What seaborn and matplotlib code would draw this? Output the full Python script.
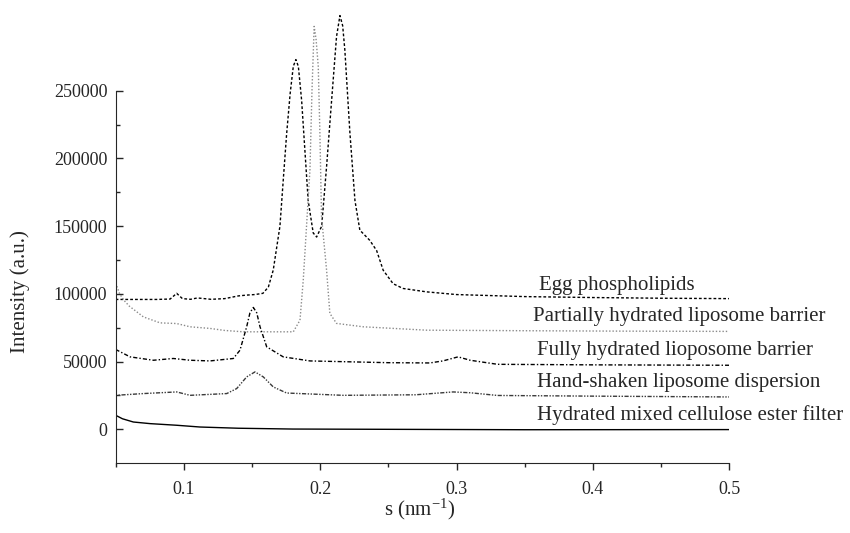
import numpy as np
import pandas as pd
import matplotlib
matplotlib.use("Agg")
import matplotlib.pyplot as plt
import seaborn as sns

# Data (s in nm^-1, intensity in a.u.)
egg_s = [0.05, 0.06, 0.07, 0.08, 0.09, 0.0948, 0.099, 0.105, 0.11, 0.12, 0.13, 0.14,
         0.146, 0.152, 0.158, 0.162, 0.1656, 0.1705, 0.173, 0.1754, 0.178, 0.1803,
         0.1822, 0.184, 0.1864, 0.1888, 0.1912, 0.1949, 0.1974, 0.2011, 0.2047,
         0.2084, 0.212, 0.2145, 0.2165, 0.2181, 0.2218, 0.2255, 0.2291, 0.2316,
         0.2364, 0.2414, 0.2462, 0.2535, 0.2608, 0.278, 0.3, 0.35, 0.4, 0.45, 0.5]
egg_i = [95900, 95900, 95900, 95900, 96200, 100400, 96500, 96000, 97000, 96000,
         96500, 98500, 99100, 99500, 100400, 105000, 117600, 150000, 185000, 218000,
         248000, 268000, 273000, 268000, 243000, 206000, 169000, 145000, 142000,
         150000, 194000, 243000, 290000, 305500, 298000, 280000, 219000, 169000,
         147000, 144500, 139500, 132000, 117500, 107500, 104000, 101500, 99500,
         98000, 97300, 96800, 96500]

part_s = [0.05, 0.053, 0.056, 0.06, 0.0704, 0.0826, 0.0948, 0.1046, 0.1192, 0.13,
          0.1436, 0.16, 0.1803, 0.1852, 0.1876, 0.1888, 0.19, 0.1925, 0.194, 0.1956,
          0.197, 0.1986, 0.1998, 0.201, 0.2047, 0.2071, 0.212, 0.2315, 0.278, 0.35,
          0.42, 0.5]
part_i = [108000, 100000, 95400, 91000, 83000, 78600, 78100, 75700, 74500, 73000,
          72000, 72000, 72000, 80600, 110200, 130000, 150000, 191500, 250000, 297500,
          288000, 268000, 218700, 157000, 117600, 85600, 78200, 75700, 73200, 72800,
          72500, 72300]

full_s = [0.05, 0.0606, 0.0777, 0.0923, 0.1046, 0.1192, 0.1363, 0.1412, 0.1461,
          0.1485, 0.151, 0.1535, 0.1559, 0.1608, 0.1729, 0.1925, 0.25, 0.2804, 0.29,
          0.3011, 0.31, 0.33, 0.4, 0.5]
full_i = [59000, 53500, 51000, 52300, 51000, 50500, 52300, 58400, 75700, 86000,
          90000, 86000, 75700, 60900, 53500, 50500, 49200, 49000, 50500, 53500,
          51000, 48000, 47600, 47300]

hand_s = [0.05, 0.0704, 0.0948, 0.1046, 0.1315, 0.1388, 0.1461, 0.1522, 0.1583,
          0.1656, 0.1754, 0.2169, 0.27, 0.2975, 0.31, 0.33, 0.4, 0.5]
hand_i = [25100, 26400, 27600, 25100, 26400, 30100, 38700, 42400, 38700, 31300,
          26800, 25100, 25500, 27600, 27000, 25000, 24500, 23900]

filt_s = [0.05, 0.055, 0.063, 0.0753, 0.0948, 0.1119, 0.14, 0.18, 0.25, 0.35, 0.5]
filt_i = [10400, 7800, 5400, 4200, 3000, 1700, 800, 200, 0, -300, -200]

labels = ["Egg phospholipids",
          "Partially hydrated liposome barrier",
          "Fully hydrated lioposome barrier",
          "Hand-shaken liposome dispersion",
          "Hydrated mixed cellulose ester filter"]
label_s = [0.3603, 0.3559, 0.3588, 0.3588, 0.3588]
label_i = [106500, 83600, 58400, 34800, 10400]

sns.set_style("ticks")
plt.rcParams["font.family"] = ["Liberation Serif", "DejaVu Serif"]
plt.rcParams["mathtext.fontset"] = "stix"

fig = plt.figure(figsize=(8.5, 5.33), dpi=100)
ax = fig.add_axes([0.136, 0.131, 0.722, 0.869])

series = [
    (egg_s, egg_i, "black", (0, (2, 1.5))),
    (part_s, part_i, "#8a8a8a", (0, (1, 1.4))),
    (full_s, full_i, "black", (0, (3, 1.5, 1, 1.5))),
    (hand_s, hand_i, "#3a3a3a", (0, (1, 1.1, 1, 1.1, 3, 1.1))),
    (filt_s, filt_i, "black", "-"),
]
for s, i, col, ls in series:
    sns.lineplot(x=s, y=i, ax=ax, color=col, linestyle=ls, linewidth=1.0,
                 sort=False, estimator=None)

for txt, xs, yi in zip(labels, label_s, label_i):
    ax.text(xs, yi, txt, fontsize=15, va="center", ha="left")

ax.set_xlim(0.05, 0.5)
ax.set_ylim(-25000, 317000)
ax.set_xticks([0.1, 0.2, 0.3, 0.4, 0.5])
ax.set_xticklabels(["0.1", "0.2", "0.3", "0.4", "0.5"])
ax.set_xticks([0.05, 0.15, 0.25, 0.35, 0.45], minor=True)
ax.set_yticks([0, 50000, 100000, 150000, 200000, 250000])
ax.set_yticklabels(["0", "50000", "100000", "150000", "200000", "250000"])
ax.set_yticks([25000, 75000, 125000, 175000, 225000], minor=True)
ax.tick_params(axis="x", which="both", direction="out", labelsize=13, pad=8)
ax.tick_params(axis="y", which="both", direction="in", labelsize=13, pad=6)
ax.tick_params(which="major", length=5, width=1)
ax.tick_params(which="minor", length=3, width=1)

for side in ["top", "right"]:
    ax.spines[side].set_visible(False)
ax.spines["left"].set_bounds(-25000, 250000)

ax.set_xlabel(r"s (nm$^{\mathregular{-1}}$)", fontsize=15)
ax.set_ylabel("Intensity (a.u.)", fontsize=15)
ax.xaxis.set_label_coords(0.496, -0.072)
ax.yaxis.set_label_coords(-0.14, 0.371)

fig.savefig("out.png", dpi=100)
